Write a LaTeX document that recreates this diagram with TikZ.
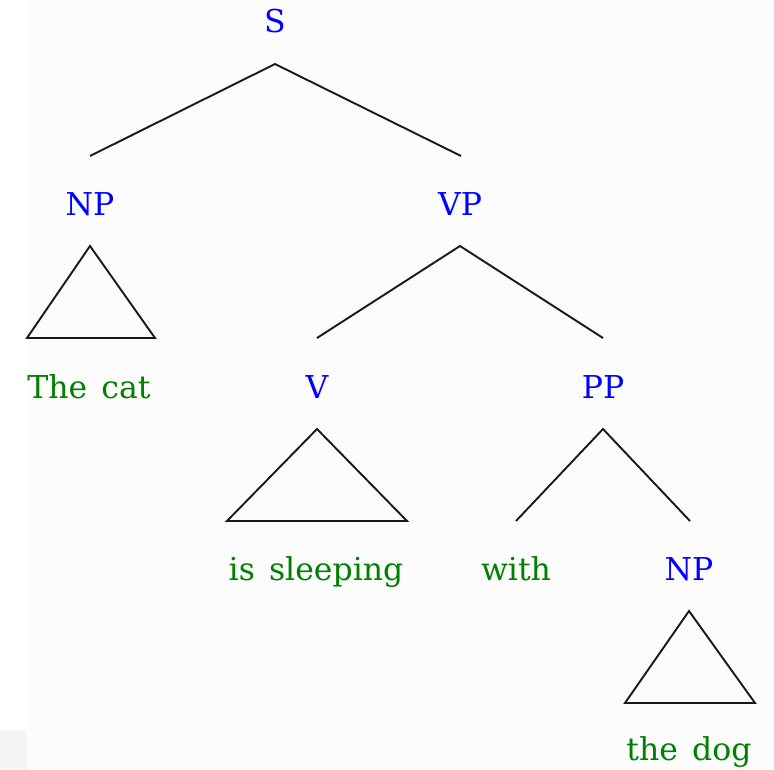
\documentclass[tikz,border=0pt]{standalone}
\usepackage{fontspec}
\setmainfont{DejaVu Serif}
\begin{document}
\begin{tikzpicture}[x=1pt,y=-1pt,
  cat/.style={text=blue, anchor=base, inner sep=0pt, font=\fontsize{31.5}{36}\selectfont},
  word/.style={text=green!50!black, anchor=base, inner sep=0pt, font=\fontsize{31.5}{36}\selectfont},
  edge/.style={draw=black!90, line width=1.9pt, line join=miter}]
\useasboundingbox[fill=white] (0,0) rectangle (774,770);
\fill[black!4] (0,730) rectangle (27,770);
\fill[black!1] (27,0) rectangle (774,770);
% labels
\node[cat] (S) at (275,33) {S};
\node[cat] (NP1) at (90,216) {NP};
\node[cat] (VP) at (460,216) {VP};
\node[word] (thecat) at (89,398) {The\hspace{0.45em}cat};
\node[cat] (V) at (317,398) {V};
\node[cat] (PP) at (603,398) {PP};
\node[word] (sleeping) at (316,580) {is\hspace{0.45em}sleeping};
\node[word] (with) at (516,580) {with};
\node[cat] (NP2) at (689,580) {NP};
\node[word] (thedog) at (689,760) {the\hspace{0.45em}dog};
% connector points
\coordinate (S-b) at (275,64);
\coordinate (NP1-t) at (90,156);
\coordinate (VP-t) at (461,156);
\coordinate (NP1-a) at (90,246);
\coordinate (NP1-l) at (27,338);
\coordinate (NP1-r) at (155,338);
\coordinate (VP-b) at (460,246);
\coordinate (V-t) at (317,338);
\coordinate (PP-t) at (603,338);
\coordinate (V-a) at (317,429);
\coordinate (V-l) at (227,521);
\coordinate (V-r) at (407,521);
\coordinate (PP-b) at (603,429);
\coordinate (with-t) at (516,521);
\coordinate (NP2-t) at (690,521);
\coordinate (NP2-a) at (689,611);
\coordinate (NP2-l) at (625,703);
\coordinate (NP2-r) at (755,703);
% edges
\draw[edge] (NP1-t) -- (S-b) -- (VP-t);
\draw[edge] (V-t) -- (VP-b) -- (PP-t);
\draw[edge] (with-t) -- (PP-b) -- (NP2-t);
\draw[edge] (NP1-a) -- (NP1-l) -- (NP1-r) -- cycle;
\draw[edge] (V-a) -- (V-l) -- (V-r) -- cycle;
\draw[edge] (NP2-a) -- (NP2-l) -- (NP2-r) -- cycle;
\end{tikzpicture}
\end{document}
